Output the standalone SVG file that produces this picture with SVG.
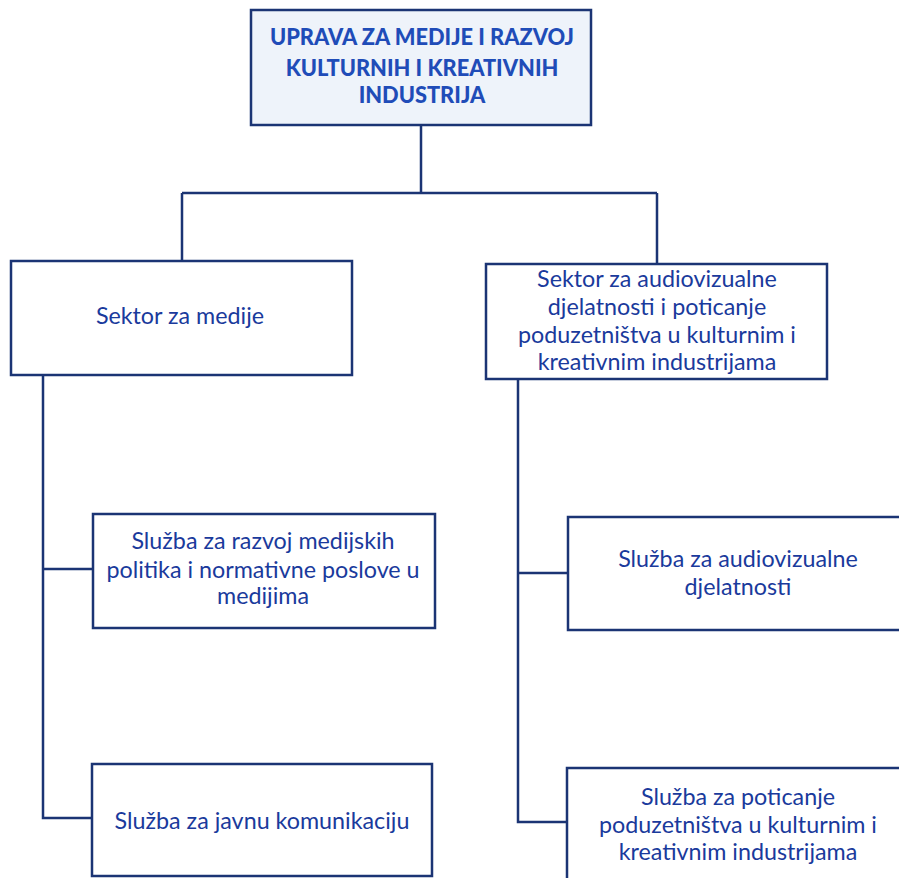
<svg xmlns="http://www.w3.org/2000/svg" width="899" height="878" viewBox="0 0 899 878">
<style>
.box{fill:#ffffff;stroke:#1b3474;stroke-width:2.5}
.top{fill:#eef3fa}
.t{font-family:Lato,"Open Sans","Liberation Sans",sans-serif;font-size:23.3px;fill:#1a3a9c;text-anchor:middle}
.b{font-weight:900;font-size:21.8px;fill:#1f4cb8}
.c{fill:none;stroke:#1b3474;stroke-width:2.5}
</style>
<rect width="899" height="878" fill="#ffffff"/>
<g id="connectors">
<path class="c" d="M421 125 V193 M182 193 H657 M182 193 V260 M657 193 V264"/>
<path class="c" d="M43 375 V818 H92 M43 569 H93"/>
<path class="c" d="M518 380 V822 H567 M518 573 H568"/>
</g>
<g id="uprava">
<rect class="box top" x="251" y="10" width="340" height="115"/>
<text class="t b" x="422" y="45">UPRAVA ZA MEDIJE I RAZVOJ</text>
<text class="t b" x="422" y="76">KULTURNIH I KREATIVNIH</text>
<text class="t b" x="422" y="103">INDUSTRIJA</text>
</g>
<g id="sektor-mediji">
<rect class="box" x="11" y="261" width="341" height="114"/>
<text class="t" x="180" y="324">Sektor za medije</text>
</g>
<g id="sektor-av">
<rect class="box" x="486" y="264" width="341" height="115"/>
<text class="t" x="657" y="287">Sektor za audiovizualne</text>
<text class="t" x="657" y="315">djelatnosti i poticanje</text>
<text class="t" x="657" y="343">poduzetništva u kulturnim i</text>
<text class="t" x="657" y="370">kreativnim industrijama</text>
</g>
<g id="sluzba-razvoj">
<rect class="box" x="93" y="514" width="342" height="114"/>
<text class="t" x="263" y="549">Služba za razvoj medijskih</text>
<text class="t" x="263" y="578">politika i normativne poslove u</text>
<text class="t" x="263" y="604">medijima</text>
</g>
<g id="sluzba-komunikacija">
<rect class="box" x="92" y="764" width="340" height="112"/>
<text class="t" x="262" y="829">Služba za javnu komunikaciju</text>
</g>
<g id="sluzba-av">
<rect class="box" x="568" y="517" width="340" height="113"/>
<text class="t" x="738" y="567">Služba za audiovizualne</text>
<text class="t" x="738" y="595">djelatnosti</text>
</g>
<g id="sluzba-poticanje">
<rect class="box" x="567" y="768" width="340" height="120"/>
<text class="t" x="738" y="805">Služba za poticanje</text>
<text class="t" x="738" y="833">poduzetništva u kulturnim i</text>
<text class="t" x="738" y="860">kreativnim industrijama</text>
</g>
</svg>
